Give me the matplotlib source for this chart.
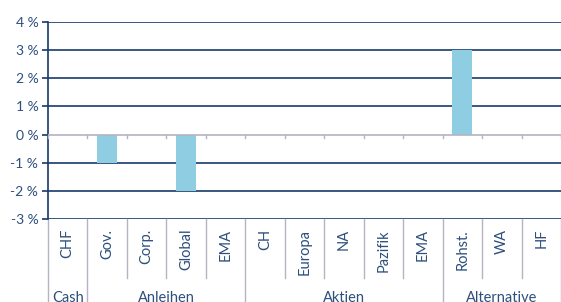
import numpy as np
import matplotlib.pyplot as plt
from matplotlib.transforms import blended_transform_factory

# Daten
kategorien = ["CHF", "Gov.", "Corp.", "Global", "EMA", "CH", "Europa", "NA",
              "Pazifik", "EMA", "Rohst.", "WA", "HF"]
werte = [0, -1, 0, -2, 0, 0, 0, 0, 0, 0, 3, 0, 0]
gruppen = ["Cash", "Anleihen", "Aktien", "Alternative"]
gruppen_anzahl = [1, 4, 5, 3]
y_ticks = [-3, -2, -1, 0, 1, 2, 3, 4]

navy = "#173a6a"
textfarbe = "#2c4f7c"
grau = "#b4b4c4"
balken = "#8ecde2"

plt.rcParams['font.family'] = ['Lato', 'DejaVu Sans']

fig = plt.figure(figsize=(5.61, 3.02), dpi=100)
ax = fig.add_axes([48 / 561, 1 - 219 / 302, 1 - 48 / 561, (219 - 22) / 302])

n = len(kategorien)
x = np.arange(n)
ax.bar(x, werte, width=0.5, color=balken, zorder=3)

ax.set_xlim(-0.5, n - 0.5)
ax.set_ylim(-3, 4)
ax.set_yticks(y_ticks)
ax.set_yticklabels([f"{t} %" for t in y_ticks], fontsize=10, color=textfarbe)
ax.tick_params(axis='y', length=4, width=1.2, color=navy, pad=3)
ax.set_xticks([])

for t in y_ticks:
    if t == 0:
        ax.axhline(0, color=grau, lw=1.2, zorder=4)
    else:
        ax.axhline(t, color=navy, lw=1.2, zorder=2)
# kleine Markierungen auf der Nulllinie
for b in np.arange(n + 1) - 0.5:
    ax.plot([b, b], [0, -0.12], color=grau, lw=1.0, zorder=4, clip_on=False)

for s in ["top", "right", "bottom"]:
    ax.spines[s].set_visible(False)
ax.spines["left"].set_color(navy)
ax.spines["left"].set_linewidth(1.2)

# Kategorien-Tabelle unter der Achse
tr = blended_transform_factory(ax.transData, fig.transFigure)
def fy(py):
    return 1 - py / 302

for i, k in enumerate(kategorien):
    ax.text(i, fy(229), k, transform=tr, rotation=90, ha='center', va='top',
            fontsize=10.5, color=textfarbe)

grenzen = np.cumsum([0] + gruppen_anzahl) - 0.5
for b in np.arange(n + 1) - 0.5:
    if b in grenzen:
        ax.plot([b, b], [fy(219), fy(302)], transform=tr, color=grau, lw=1.0, clip_on=False)
    else:
        ax.plot([b, b], [fy(219), fy(278)], transform=tr, color=grau, lw=1.0, clip_on=False)

for g, a, b in zip(gruppen, grenzen[:-1], grenzen[1:]):
    ax.text((a + b) / 2, fy(291), g, transform=tr, ha='center', va='top',
            fontsize=10.5, color=textfarbe)

fig.savefig("out.png", dpi=100)
